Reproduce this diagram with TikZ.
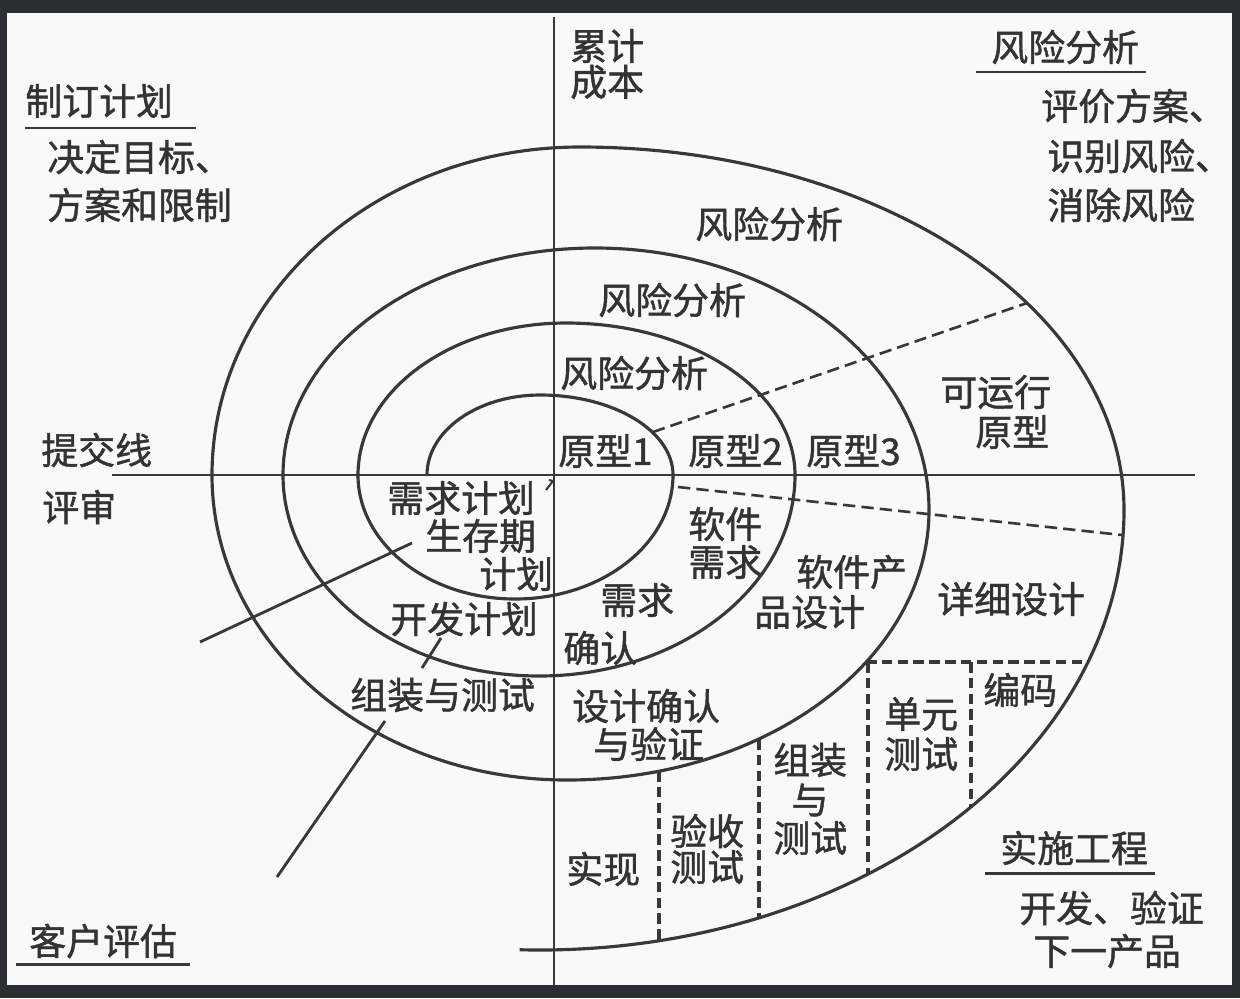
\documentclass[tikz,border=0pt]{standalone}
\usepackage{fontspec}
\newfontfamily\cjk{Noto Sans CJK SC}[FakeBold=1.2]
\definecolor{framec}{HTML}{2B2E32}
\definecolor{paper}{HTML}{F9F9F9}
\definecolor{ink}{HTML}{333333}
\definecolor{linec}{HTML}{383838}
\begin{document}
\begin{tikzpicture}[x=0.02cm,y=-0.02cm,
  curve/.style={draw=linec, line width=1.8pt},
  axisline/.style={draw=linec, line width=1.6pt},
  guide/.style={draw=linec, line width=1.5pt, dash pattern=on 7pt off 3.5pt},
  vguide/.style={draw=linec, line width=1.9pt, dash pattern=on 6pt off 3pt},
  rule/.style={draw=linec, line width=1.7pt},
  lbl/.style={font=\cjk\fontsize{21pt}{25pt}\selectfont, text=ink, inner sep=0pt, anchor=west}]
\useasboundingbox (0,0) rectangle (1240,998);
% dark frame and paper
\fill[framec] (0,0) rectangle (1240,998);
\fill[paper] (7,13) rectangle (1232,985);

% axes
\coordinate (vtop) at (554,17);
\coordinate (vbot) at (554,985);
\coordinate (hleft) at (112,475);
\coordinate (hright) at (1195,475);
\draw[axisline] (vtop) -- (vbot);
\draw[axisline] (hleft) -- (hright);

% the spiral, built from quarter ellipses
\draw[curve] (427,475)
  arc[start angle=180, end angle=270, x radius=113, y radius=80]
  arc[start angle=270, end angle=360, x radius=133, y radius=80]
  arc[start angle=0,   end angle=90,  x radius=158, y radius=124]
  arc[start angle=90,  end angle=180, x radius=157, y radius=124]
  arc[start angle=180, end angle=270, x radius=208, y radius=152]
  arc[start angle=270, end angle=360, x radius=229, y radius=152]
  arc[start angle=0,   end angle=90,  x radius=256, y radius=201]
  arc[start angle=90,  end angle=180, x radius=256, y radius=201]
  arc[start angle=180, end angle=270, x radius=312, y radius=227]
  arc[start angle=270, end angle=360, x radius=334, y radius=262]
  arc[start angle=0,   end angle=90,  x radius=362, y radius=270]
  arc[start angle=90,  end angle=180, x radius=355, y radius=305]
  arc[start angle=180, end angle=270, x radius=368, y radius=328]
  arc[start angle=270, end angle=360, x radius=544, y radius=363]
  arc[start angle=0,   end angle=92,  x radius=584, y radius=440];

% small start mark
\draw[curve, line width=1.2pt] (546,490) -- (553,481) -- (549,480);

% left review lines
\coordinate (la1) at (200,642);  \coordinate (la2) at (412,543);
\coordinate (lb1) at (277,877);  \coordinate (lb2) at (385,721);
\coordinate (lc1) at (422,668);  \coordinate (lc2) at (441,638);
\draw[curve, line width=1.6pt] (la1) -- (la2);
\draw[curve, line width=1.6pt] (lb1) -- (lb2);
\draw[curve, line width=1.6pt] (lc1) -- (lc2);

% prototype boundary lines
\coordinate (ua) at (653,432);  \coordinate (ub) at (1027,303);
\coordinate (da) at (678,487);  \coordinate (db) at (1122,535);
\draw[guide] (ua) -- (ub);
\draw[guide] (da) -- (db);

% engineering cells
\coordinate (bh1) at (866,662);  \coordinate (bh2) at (1088,662);
\coordinate (v1a) at (659,771);  \coordinate (v1b) at (659,941);
\coordinate (v2a) at (759,739);  \coordinate (v2b) at (759,918);
\coordinate (v3a) at (868,662);  \coordinate (v3b) at (868,874);
\coordinate (v4a) at (971,662);  \coordinate (v4b) at (971,808);
\draw[vguide] (bh1) -- (bh2);
\draw[vguide] (v1a) -- (v1b);
\draw[vguide] (v2a) -- (v2b);
\draw[vguide] (v3a) -- (v3b);
\draw[vguide] (v4a) -- (v4b);

% quadrant headings
\node[lbl] (plan) at (25,101) {制订计划};
\draw[rule] (25,128) -- (196,128);
\node[lbl] (plan1) at (47,157) {决定目标、};
\node[lbl] (plan2) at (47,205) {方案和限制};

\node[lbl] (cost1) at (570,46) {累计};
\node[lbl] (cost2) at (570,82) {成本};

\node[lbl] (risk) at (991,47) {风险分析};
\draw[rule] (976,72) -- (1146,72);
\node[lbl] (risk1) at (1041,106) {评价方案、};
\node[lbl] (risk2) at (1047,156) {识别风险、};
\node[lbl] (risk3) at (1047,205) {消除风险};

\node[lbl] (commit) at (41,450) {提交线};
\node[lbl] (review) at (42,507) {评审};

\node[lbl] (client) at (29,941) {客户评估};
\draw[rule] (16,964) -- (190,964);

\node[lbl] (eng) at (1000,848) {实施工程};
\draw[rule] (985,873) -- (1155,873);
\node[lbl] (eng1) at (1019,908) {开发、验证};
\node[lbl] (eng2) at (1033,951) {下一产品};

% risk analysis rings
\node[lbl] (ra3) at (695,224) {风险分析};
\node[lbl] (ra2) at (598,300) {风险分析};
\node[lbl] (ra1) at (560,373) {风险分析};

% prototypes
\node[lbl] (p1) at (558,451) {原型1};
\node[lbl] (p2) at (688,451) {原型2};
\node[lbl] (p3) at (806,451) {原型3};
\node[lbl] (op1) at (940,392) {可运行};
\node[lbl] (op2) at (975,432) {原型};

% planning side
\node[lbl] (rq1) at (387,498) {需求计划};
\node[lbl] (rq2) at (425,536) {生存期};
\node[lbl] (rq3) at (479,574) {计划};
\node[lbl] (dev) at (390,619) {开发计划};
\node[lbl] (integ) at (350,695) {组装与测试};

% development side
\node[lbl] (sr1) at (688,524) {软件};
\node[lbl] (sr2) at (688,562) {需求};
\node[lbl] (rv1) at (600,600) {需求};
\node[lbl] (rv2) at (563,648) {确认};
\node[lbl] (pd1) at (796,572) {软件产};
\node[lbl] (pd2) at (754,612) {品设计};
\node[lbl] (dd) at (937,599) {详细设计};
\node[lbl] (dv1) at (572,706) {设计确认};
\node[lbl] (dv2) at (593,744) {与验证};
\node[lbl] (code) at (983,690) {编码};
\node[lbl] (ut1) at (884,714) {单元};
\node[lbl] (ut2) at (884,754) {测试};
\node[lbl] (it1) at (773,760) {组装};
\node[lbl, anchor=center] (it2) at (810,800) {与};
\node[lbl] (it3) at (773,838) {测试};
\node[lbl] (at1) at (670,831) {验收};
\node[lbl] (at2) at (670,867) {测试};
\node[lbl] (impl) at (566,869) {实现};
\end{tikzpicture}
\end{document}
